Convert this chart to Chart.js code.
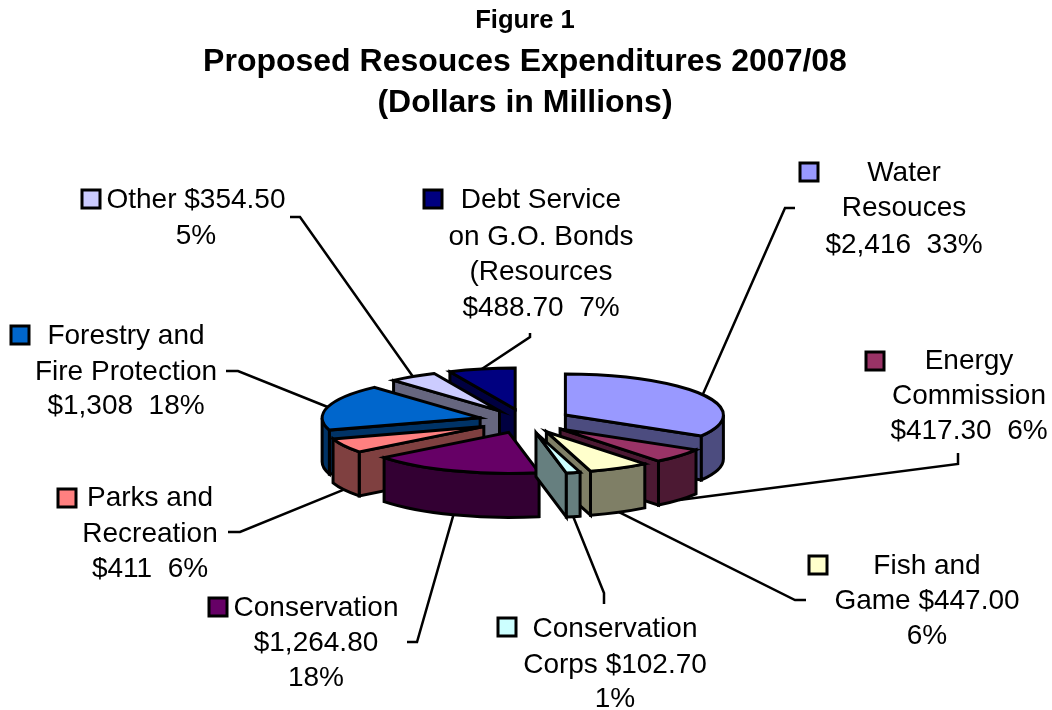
<!DOCTYPE html>
<html lang="en">
<head>
    <meta charset="UTF-8">
    <title>Proposed Resouces Expenditures 2007/08</title>
    <script src="https://cdn.jsdelivr.net/npm/chart.js"></script>
    <style>
        body {
            margin: 0;
            padding: 0;
            background-color: #ffffff;
        }
        canvas {
            display: block;
        }
    </style>
</head>
<body>
    <canvas id="pieChart" width="1052" height="710"></canvas>

    <script>
        const categories = ['Water Resouces', 'Energy Commission', 'Fish and Game', 'Conservation Corps', 'Conservation',
            'Parks and Recreation', 'Forestry and Fire Protection', 'Other', 'Debt Service on G.O. Bonds (Resources'];
        const expenditures = [2416, 417.3, 447, 102.7, 1264.8, 411, 1308, 354.5, 488.7];

        const topColors = ['#9999FF', '#993366', '#FFFFCC', '#CCFFFF', '#660066', '#FF8080', '#0066CC', '#CCCCFF', '#000080'];
        const sideColors = ['#4C4C7F', '#4C1933', '#7F7F66', '#667F7F', '#330033', '#7F4040', '#003366', '#66667F', '#000040'];

        const labelLines = [
            ['Water', 'Resouces', '$2,416  33%'],
            ['Energy', 'Commission', '$417.30  6%'],
            ['Fish and', 'Game $447.00', '6%'],
            ['Conservation', 'Corps $102.70', '1%'],
            ['Conservation', '$1,264.80', '18%'],
            ['Parks and', 'Recreation', '$411  6%'],
            ['Forestry and', 'Fire Protection', '$1,308  18%'],
            ['Other $354.50', '5%'],
            ['Debt Service', 'on G.O. Bonds', '(Resources', '$488.70  7%']
        ];

        // label block placement: text centre x, y of each line, swatch corner
        const labelLayout = [
            { x: 904, ys: [173, 208, 245], key: [800, 163] },
            { x: 969, ys: [361, 396, 431], key: [866, 352] },
            { x: 927, ys: [566, 601, 636], key: [809, 556] },
            { x: 615, ys: [629, 665, 699], key: [498, 618] },
            { x: 316, ys: [608, 643, 678], key: [209, 598] },
            { x: 150, ys: [498, 534, 569], key: [58, 489] },
            { x: 126, ys: [336, 372, 406], key: [11, 326] },
            { x: 196, ys: [200, 236], key: [82, 190] },
            { x: 541, ys: [200, 237, 272, 308], key: [424, 190] }
        ];

        // leader line elbows, from the slice outwards
        const leaderElbows = [
            [[785, 208], [795, 208]],
            [[958, 464], [958, 453]],
            [[795, 600], [806, 600]],
            [[604, 593], [604, 604]],
            [[417, 642], [407, 642]],
            [[240, 532], [228, 532]],
            [[238, 371], [226, 371]],
            [[300, 217], [290, 217]],
            [[530, 337], [530, 333]]
        ];

        const TILT = 0.26;
        const EXPLODE = 46.5;
        const DEPTH = 44;

        function explodedCentre(arc) {
            const mid = (arc.startAngle + arc.endAngle) / 2;
            return {
                x: arc.x + Math.cos(mid) * EXPLODE,
                y: arc.y + Math.sin(mid) * EXPLODE * TILT
            };
        }

        function rimPoint(c, r, angle) {
            return { x: c.x + Math.cos(angle) * r, y: c.y + Math.sin(angle) * r * TILT };
        }

        function paint(ctx, fill) {
            ctx.fillStyle = fill;
            ctx.fill();
            ctx.stroke();
        }

        function drawCutFace(ctx, c, r, angle, fill) {
            const p = rimPoint(c, r, angle);
            ctx.beginPath();
            ctx.moveTo(c.x, c.y);
            ctx.lineTo(p.x, p.y);
            ctx.lineTo(p.x, p.y + DEPTH);
            ctx.lineTo(c.x, c.y + DEPTH);
            ctx.closePath();
            paint(ctx, fill);
        }

        function drawSlice(ctx, arc, index) {
            const c = explodedCentre(arc);
            const r = arc.outerRadius;
            const start = arc.startAngle;
            const end = arc.endAngle;
            const side = sideColors[index];

            // start face shows on the left half, end face on the right half
            if (Math.cos(start) < 0) drawCutFace(ctx, c, r, start, side);
            if (Math.cos(end) > 0) drawCutFace(ctx, c, r, end, side);

            // curved outer wall, only the part facing front
            const from = Math.max(start, 0);
            const to = Math.min(end, Math.PI);
            if (to > from) {
                ctx.beginPath();
                ctx.ellipse(c.x, c.y, r, r * TILT, 0, from, to);
                ctx.ellipse(c.x, c.y + DEPTH, r, r * TILT, 0, to, from, true);
                ctx.closePath();
                paint(ctx, side);
            }

            ctx.beginPath();
            ctx.moveTo(c.x, c.y);
            ctx.ellipse(c.x, c.y, r, r * TILT, 0, start, end);
            ctx.closePath();
            paint(ctx, topColors[index]);
        }

        function drawLeader(ctx, arc, index) {
            const c = explodedCentre(arc);
            const mid = (arc.startAngle + arc.endAngle) / 2;
            const p = rimPoint(c, arc.outerRadius, mid);
            ctx.beginPath();
            ctx.moveTo(p.x, p.y + (Math.sin(mid) > 0 ? DEPTH : 0));
            leaderElbows[index].forEach(([x, y]) => ctx.lineTo(x, y));
            ctx.stroke();
        }

        function drawLabel(ctx, index) {
            const layout = labelLayout[index];
            ctx.fillStyle = '#000000';
            ctx.font = "28px 'Liberation Sans'";
            ctx.textAlign = 'center';
            ctx.textBaseline = 'middle';
            labelLines[index].forEach((line, i) => ctx.fillText(line, layout.x, layout.ys[i]));

            ctx.fillStyle = topColors[index];
            ctx.strokeStyle = '#000000';
            ctx.lineWidth = 3;
            ctx.fillRect(layout.key[0], layout.key[1], 18, 18);
            ctx.strokeRect(layout.key[0], layout.key[1], 18, 18);
        }

        // Chart.js only works out the angles here, the solid is drawn on top of them
        const tiltedPie = {
            id: 'tiltedPie',
            beforeDatasetsDraw(chart) {
                const ctx = chart.ctx;
                const arcs = chart.getDatasetMeta(0).data;
                ctx.save();

                ctx.strokeStyle = '#000000';
                ctx.lineWidth = 2.5;
                arcs.forEach((arc, i) => drawLeader(ctx, arc, i));

                // paint back to front
                const depthOf = arc => Math.sin((arc.startAngle + arc.endAngle) / 2);
                const order = arcs.map((arc, i) => i).sort((a, b) => depthOf(arcs[a]) - depthOf(arcs[b]));
                ctx.lineWidth = 3;
                ctx.lineJoin = 'miter';
                order.forEach(i => drawSlice(ctx, arcs[i], i));

                arcs.forEach((arc, i) => drawLabel(ctx, i));
                ctx.restore();
                return false;
            }
        };

        new Chart(document.getElementById('pieChart').getContext('2d'), {
            type: 'pie',
            data: {
                labels: categories,
                datasets: [{ data: expenditures, backgroundColor: topColors, borderColor: '#000000' }]
            },
            options: {
                responsive: false,
                animation: false,
                radius: 158,
                layout: { padding: { right: 2 } },
                plugins: {
                    legend: { display: false },
                    tooltip: { enabled: false },
                    title: {
                        display: true,
                        text: 'Figure 1',
                        color: '#000000',
                        font: { family: "'Liberation Sans'", size: 25.6, weight: 'bold', lineHeight: 1.2 },
                        padding: { top: 6, bottom: 0 }
                    },
                    subtitle: {
                        display: true,
                        text: ['Proposed Resouces Expenditures 2007/08', '(Dollars in Millions)'],
                        color: '#000000',
                        font: { family: "'Liberation Sans'", size: 32, weight: 'bold', lineHeight: 1.27 },
                        padding: { top: 5, bottom: 9 }
                    }
                }
            },
            plugins: [tiltedPie]
        });
    </script>
</body>
</html>
